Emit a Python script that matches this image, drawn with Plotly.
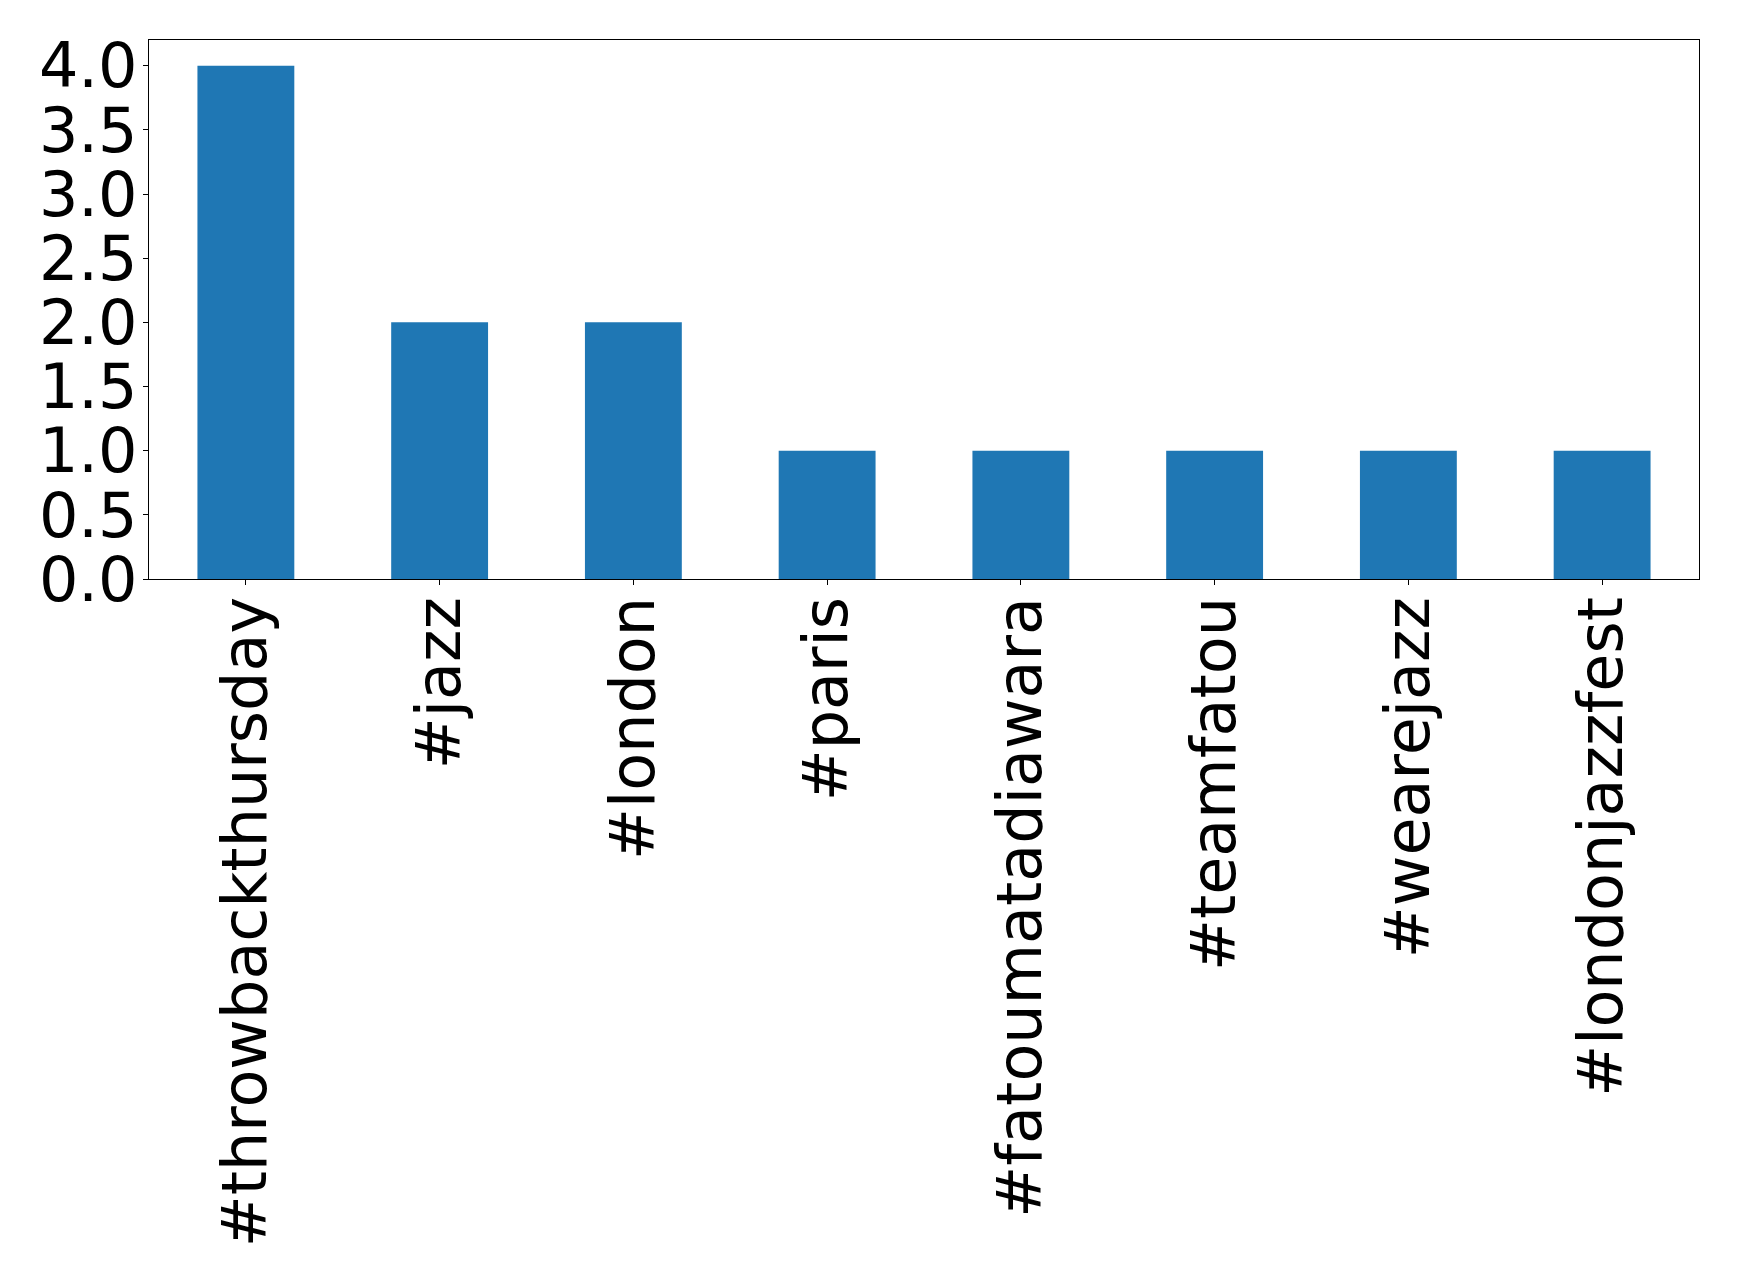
import plotly.graph_objects as go

hashtags = ["#throwbackthursday", "#jazz", "#london", "#paris",
            "#fatoumatadiawara", "#teamfatou", "#wearejazz", "#londonjazzfest"]
counts = [4, 2, 2, 1, 1, 1, 1, 1]
y_ticks = [0.0, 0.5, 1.0, 1.5, 2.0, 2.5, 3.0, 3.5, 4.0]
y_tick_text = ["0.0", "0.5", "1.0", "1.5", "2.0", "2.5", "3.0", "3.5", "4.0"]

fig = go.Figure(go.Bar(x=hashtags, y=counts, width=0.5,
                       marker=dict(color="#1f77b4", line=dict(width=0))))

axis_common = dict(showline=True, linecolor="black", linewidth=1.2, mirror=True,
                   ticks="outside", ticklen=5, tickwidth=1.2, tickcolor="black",
                   showgrid=False, zeroline=False, automargin=False,
                   tickfont=dict(family="DejaVu Sans", size=62, color="black"))

# page body has an 8px default margin; compensate so the plot area matches
fig.update_layout(
    width=1731, height=1275,
    margin=dict(l=141, r=40, t=32, b=704),
    paper_bgcolor="white", plot_bgcolor="white",
    showlegend=False,
    xaxis=dict(range=[-0.5, 7.5], tickangle=-90, ticklabelstandoff=-13, **axis_common),
    yaxis=dict(range=[0, 4.2], tickvals=y_ticks, ticktext=y_tick_text,
               ticklabelstandoff=-7, **axis_common),
)

fig.write_html("out.html")
